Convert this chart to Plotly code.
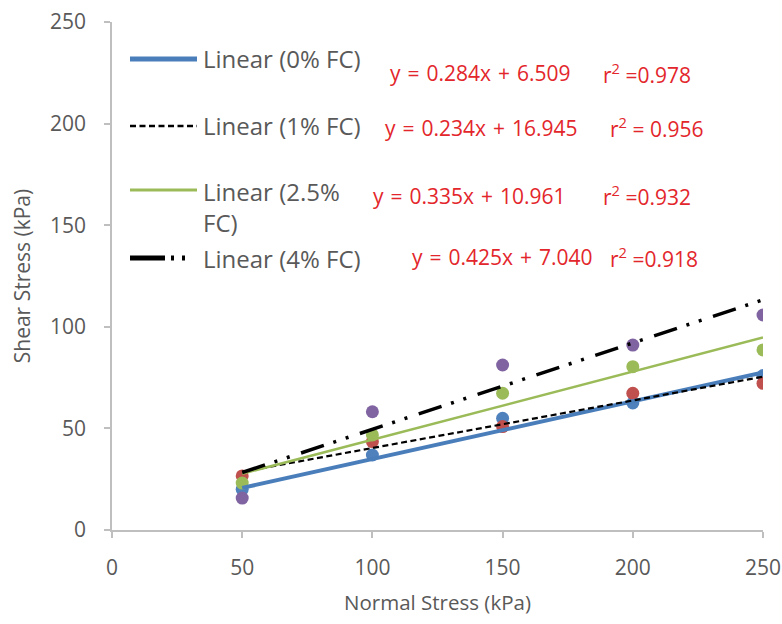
import plotly.graph_objects as go

# Direct shear test results: normal stress vs. peak shear stress
normal_stress = [50, 100, 150, 200, 250]

shear_0fc = [20.0, 36.9, 55.0, 62.5, 76.0]
shear_1fc = [26.6, 43.5, 50.9, 67.3, 72.2]
shear_2_5fc = [23.1, 46.8, 67.3, 80.4, 88.6]
shear_4fc = [15.7, 58.2, 81.2, 91.0, 105.8]

# Linear fits (slope, intercept, r^2)
fit_slopes = [0.284, 0.234, 0.335, 0.425]
fit_intercepts = [6.509, 16.945, 10.961, 7.040]
fit_r2 = ["0.978", " 0.956", "0.932", "0.918"]
fit_names = ["Linear (0% FC)", "Linear (1% FC)", "Linear (2.5%<br>FC)", "Linear (4% FC)"]

point_colors = ["#4F81BD", "#C0504D", "#9BBB59", "#8064A2"]
series = [shear_0fc, shear_1fc, shear_2_5fc, shear_4fc]

line_styles = [
    dict(color="#4A7EBB", width=4, dash="solid"),
    dict(color="#000000", width=2.2, dash="6px,3.5px"),
    dict(color="#9BBB59", width=2.5, dash="solid"),
    dict(color="#000000", width=3.5, dash="24px,10px,3px,10px,3px,12px"),
]

TEXT_GREY = "#595959"
EQ_RED = "#E3262B"
FONT = "Open Sans"
SP = "\u2004"  # slightly wider word gap used in the fit equations

fig = go.Figure()

for ys, col in zip(series, point_colors):
    fig.add_trace(go.Scatter(
        x=normal_stress, y=ys, mode="markers",
        marker=dict(size=13, color=col, line=dict(width=0)),
        showlegend=False, hoverinfo="x+y",
    ))

x_fit = [normal_stress[0], normal_stress[-1]]
for m, c, st in zip(fit_slopes, fit_intercepts, line_styles):
    fig.add_trace(go.Scatter(
        x=x_fit, y=[m * xv + c for xv in x_fit], mode="lines",
        line=st, showlegend=False, hoverinfo="skip",
    ))

# plot-area geometry (pixels) used for placing the legend block
W, H = 782, 624
L, R, T, B = 112, 19, 22, 94
PW, PH = W - L - R, H - T - B


def px(xp):
    return (xp - L) / PW


def py(yp):
    return (H - B - yp) / PH


shapes = []
annotations = []

legend_rows_y = [59, 126, 190, 258]
legend_text_y = [59, 126, 207, 258]
sample_styles = [
    dict(color="#4A7EBB", width=5, dash="solid"),
    dict(color="#000000", width=2.5, dash="6px,3.5px"),
    dict(color="#9BBB59", width=3, dash="solid"),
    dict(color="#000000", width=5, dash="35px,6px,3px,8px,3px,40px"),
]
for yrow, ytxt, st, name in zip(legend_rows_y, legend_text_y, sample_styles, fit_names):
    shapes.append(dict(type="line", xref="paper", yref="paper",
                       x0=px(130), x1=px(197), y0=py(yrow), y1=py(yrow),
                       line=st))
    annotations.append(dict(
        xref="paper", yref="paper", x=px(201), y=py(ytxt),
        xanchor="left", yanchor="middle", align="left", showarrow=False,
        text=name, font=dict(family=FONT, size=24, color=TEXT_GREY),
    ))

eq_pos = [(388, 601, 73), (383, 608, 128), (371, 601, 196), (410, 608, 257)]
for (xe, xr, ye), m, c, r2 in zip(eq_pos, fit_slopes, fit_intercepts, fit_r2):
    annotations.append(dict(
        xref="paper", yref="paper", x=px(xe), y=py(ye), xanchor="left",
        yanchor="middle", showarrow=False,
        text=f"y{SP}={SP}{m:.3f}x{SP}+{SP}{c:.3f}",
        font=dict(family=FONT, size=21, color=EQ_RED),
    ))
    annotations.append(dict(
        xref="paper", yref="paper", x=px(xr), y=py(ye), xanchor="left",
        yanchor="middle", showarrow=False,
        text=f"r<sup>2</sup> ={r2}",
        font=dict(family=FONT, size=21, color=EQ_RED),
    ))

axis_common = dict(
    showgrid=False, zeroline=False, showline=True, linecolor="#BFBFBF",
    linewidth=1.5, ticks="outside", ticklen=6, tickcolor="#BFBFBF",
    tickwidth=1.5, tickfont=dict(family=FONT, size=21, color=TEXT_GREY),
    fixedrange=True,
)

fig.update_layout(
    width=W, height=H,
    margin=dict(l=L, r=R, t=T, b=B, autoexpand=False),
    paper_bgcolor="white", plot_bgcolor="white",
    xaxis=dict(axis_common, range=[0, 250], tickvals=[0, 50, 100, 150, 200, 250],
               ticklabelstandoff=12,
               title=dict(text="Normal Stress (kPa)", standoff=16,
                          font=dict(family=FONT, size=20.5, color=TEXT_GREY))),
    yaxis=dict(axis_common, range=[0, 250], tickvals=[0, 50, 100, 150, 200, 250],
               ticklabelstandoff=14,
               title=dict(text="Shear Stress (kPa)", standoff=14,
                          font=dict(family=FONT, size=21, color=TEXT_GREY))),
    shapes=shapes, annotations=annotations, showlegend=False,
)

fig.write_html("out.html")
